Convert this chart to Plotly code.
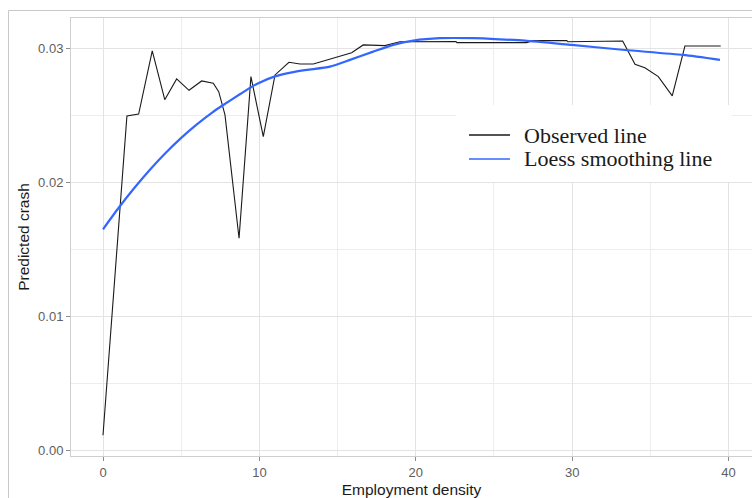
import plotly.graph_objects as go

# Observed line (Employment density vs Predicted crash)
obs_x = [0.0, 1.53, 2.28, 3.15, 3.95, 4.71, 5.50, 6.31, 7.05, 7.40, 7.80, 8.70, 9.46,
         10.25, 11.00, 11.89, 12.60, 13.45, 15.90, 16.64, 18.03, 18.99, 22.57, 22.63,
         27.09, 27.49, 29.65, 29.73, 33.23, 34.02, 34.65, 35.51, 36.40, 37.21, 39.50]
obs_y = [0.0011, 0.02494, 0.02509, 0.0298, 0.02616, 0.02771, 0.02686, 0.02756, 0.02739,
         0.02676, 0.02502, 0.01581, 0.02788, 0.0234, 0.02801, 0.02895, 0.02883, 0.02883,
         0.02967, 0.03025, 0.0302, 0.03049, 0.03051, 0.03042, 0.03042, 0.03057, 0.03057,
         0.03049, 0.03054, 0.02881, 0.02855, 0.02788, 0.02644, 0.03017, 0.03017]

# Loess smoothing line
loess_x = [0.0, 0.98, 2.0, 3.0, 4.0, 5.0, 6.0, 7.0, 7.59, 8.8, 9.5, 10.04, 11.0, 12.0,
           13.02, 14.51, 15.79, 17.28, 18.56, 19.84, 21.55, 23.68, 25.38, 26.98, 29.97,
           33.38, 37.10, 39.45]
loess_y = [0.01648, 0.01805, 0.01956, 0.02093, 0.02218, 0.02331, 0.02432, 0.02522, 0.02569,
           0.0266, 0.02712, 0.02745, 0.0279, 0.02818, 0.02838, 0.02863, 0.02913, 0.02975,
           0.03025, 0.03057, 0.03075, 0.03075, 0.03067, 0.03057, 0.03025, 0.02987, 0.0295,
           0.02913]

series_names = ["Observed line", "Loess smoothing line"]
series_colors = ["#1a1a1a", "#3366FF"]

x_ticks = [0, 10, 20, 30, 40]
y_ticks = [0.00, 0.01, 0.02, 0.03]
y_ticklabels = ["0.00", "0.01", "0.02", "0.03"]

fig = go.Figure()
fig.add_trace(go.Scatter(x=obs_x, y=obs_y, mode="lines", name=series_names[0],
                         showlegend=False, line=dict(color=series_colors[0], width=1.1)))
fig.add_trace(go.Scatter(x=loess_x, y=loess_y, mode="lines", name=series_names[1],
                         showlegend=False,
                         line=dict(color=series_colors[1], width=2.2, shape="spline", smoothing=0.6)))

L, R, T, B = 71, 0, 18, 42
W, H = 752, 498
pw, ph = W - L - R, H - T - B

def px(xp):
    return (xp - L) / pw

def py(yp):
    return (H - B - yp) / ph

# white box behind the legend
fig.add_shape(type="rect", xref="paper", yref="paper",
              x0=px(456), x1=px(732), y0=py(182), y1=py(105),
              fillcolor="white", line=dict(width=0), layer="above")
# legend keys and labels
for i, (nm, col) in enumerate(zip(series_names, series_colors)):
    yy = 135 + 24 * i
    fig.add_shape(type="line", xref="paper", yref="paper",
                  x0=px(469), x1=px(510), y0=py(yy), y1=py(yy),
                  line=dict(color=col, width=1.4), layer="above")
    fig.add_annotation(xref="paper", yref="paper", x=px(522), y=py(yy),
                       xanchor="left", yanchor="middle", showarrow=False, text=nm,
                       font=dict(family="Liberation Serif, Times New Roman, serif",
                                 size=22, color="#1a1a1a"))
# outer frame
fig.add_shape(type="line", xref="paper", yref="paper",
              x0=px(8.5), x1=px(8.5), y0=py(10.5), y1=py(498),
              line=dict(color="#c8c8c8", width=1))
fig.add_shape(type="line", xref="paper", yref="paper",
              x0=px(8.5), x1=px(752), y0=py(10.5), y1=py(10.5),
              line=dict(color="#c8c8c8", width=1))

fig.update_layout(
    width=W, height=H,
    margin=dict(l=L, r=R, t=T, b=B, pad=0),
    paper_bgcolor="white", plot_bgcolor="white",
    font=dict(family="Arial, Liberation Sans, sans-serif", color="#4d4d4d"),
    showlegend=False,
)
fig.update_xaxes(
    range=[-2.046, 41.5], tickvals=x_ticks, ticks="outside", ticklen=4, tickcolor="#8c8c8c",
    tickfont=dict(size=13, color="#5e5e5e"),
    showgrid=True, gridcolor="#e3e3e3", gridwidth=1,
    minor=dict(dtick=5, showgrid=True, gridcolor="#ededed", gridwidth=1, ticks=""),
    showline=True, linecolor="#cfcfcf", linewidth=1, mirror=True, zeroline=False,
    title=dict(text="Employment density", font=dict(size=15.5, color="#1a1a1a"), standoff=5),
)
fig.update_yaxes(
    range=[-0.000448, 0.03226], tickvals=y_ticks, ticktext=y_ticklabels,
    ticks="outside", ticklen=4, tickcolor="#8c8c8c",
    tickfont=dict(size=13, color="#5e5e5e"),
    showgrid=True, gridcolor="#e3e3e3", gridwidth=1,
    minor=dict(dtick=0.005, showgrid=True, gridcolor="#ededed", gridwidth=1, ticks=""),
    showline=True, linecolor="#cfcfcf", linewidth=1, mirror=True, zeroline=False,
    title=dict(text="Predicted crash", font=dict(size=15.5, color="#1a1a1a"), standoff=4),
)

fig.write_html("out.html")
